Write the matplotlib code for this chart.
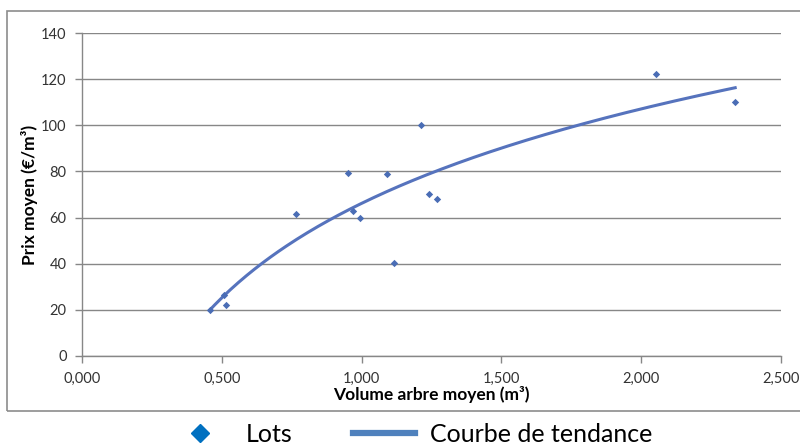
import matplotlib.pyplot as plt
import matplotlib.patches as mpatches
from matplotlib.lines import Line2D
from matplotlib.ticker import FuncFormatter
import numpy as np

plt.rcParams['font.family'] = ['Lato', 'DejaVu Sans']

# lots: average tree volume (m3) and average price (EUR/m3)
volume = [0.457, 0.507, 0.514, 0.765, 0.951, 0.969, 0.993, 1.090, 1.115,
          1.211, 1.242, 1.270, 2.054, 2.336]
prix = [19.8, 26.4, 22.1, 61.7, 79.3, 63.0, 59.7, 78.9, 40.1,
        100.3, 70.1, 68.2, 122.2, 110.0]

x_ticks = [0.0, 0.5, 1.0, 1.5, 2.0, 2.5]
y_ticks = [0, 20, 40, 60, 80, 100, 120, 140]

vol = np.array(volume)
px = np.array(prix)

# logarithmic trend line fitted on the lots
a, b = np.polyfit(np.log(vol), px, 1)
xs = np.linspace(vol.min(), vol.max(), 200)
ys = a * np.log(xs) + b

fig = plt.figure(figsize=(8, 4.47), dpi=100)
ax = fig.add_axes([0.1025, 0.2043, 0.8738, 0.7212])

grid_col = '#878787'
ax.set_axisbelow(True)
ax.grid(axis='y', color=grid_col, linewidth=1.0)
ax.plot(xs, ys, color='#5673BD', linewidth=2.2, zorder=3)
ax.scatter(vol, px, marker='D', s=14, color='#4A6DB5', zorder=4, linewidths=0)

ax.set_xlim(0, 2.5)
ax.set_ylim(0, 140)
ax.set_xticks(x_ticks)
ax.set_yticks(y_ticks)
ax.xaxis.set_major_formatter(FuncFormatter(lambda v, p: f'{v:.3f}'.replace('.', ',')))

for s in ['top', 'right']:
    ax.spines[s].set_visible(False)
for s in ['left', 'bottom']:
    ax.spines[s].set_color(grid_col)
    ax.spines[s].set_linewidth(1.0)
ax.tick_params(colors=grid_col, length=5, width=1.0, labelsize=10.5, labelcolor='#333333')
ax.tick_params(axis='x', pad=7)
ax.tick_params(axis='y', pad=6)

ax.set_xlabel('Volume arbre moyen (m³)', fontsize=12.5, fontweight='bold', labelpad=0)
ax.set_ylabel('Prix moyen (€/m³)', fontsize=12.5, fontweight='bold', labelpad=2)

# outer chart frame
fig.patches.append(mpatches.Rectangle((7 / 800, 1 - 411 / 447), 1.0, (411 - 10.5) / 447,
                                      transform=fig.transFigure, fill=False,
                                      edgecolor='#8c8c8c', linewidth=1.2))

handles = [Line2D([], [], marker='D', linestyle='none', color='#0070C0', markersize=9),
           Line2D([], [], color='#4F81BD', linewidth=4.5)]
fig.legend(handles, ['Lots', 'Courbe de tendance'], loc='center',
           bbox_to_anchor=(0.513, 0.028), ncol=2, frameon=False, fontsize=18,
           handlelength=2.5, columnspacing=2.4, handletextpad=0.6)

fig.savefig('out.png', dpi=100)
plt.close(fig)
